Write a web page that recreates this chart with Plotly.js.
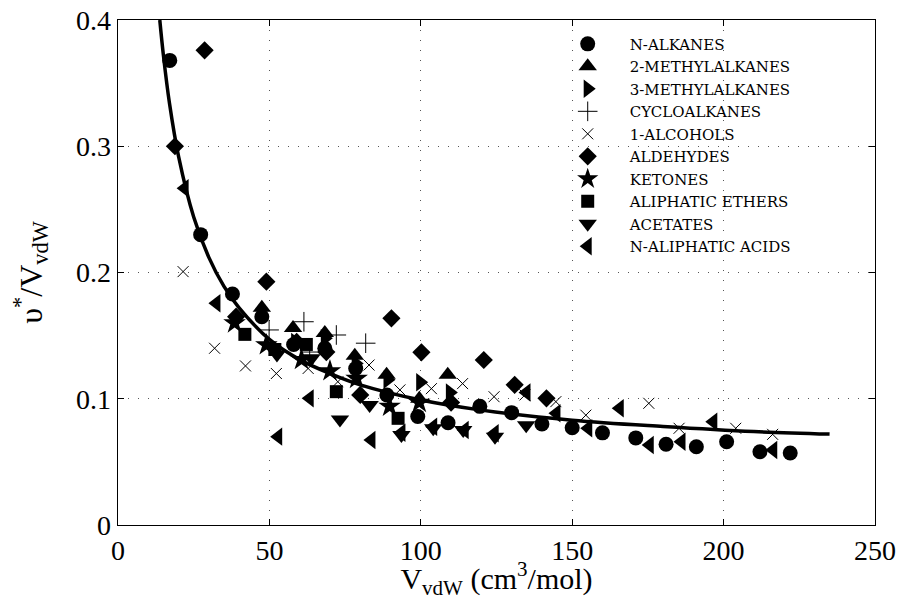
<!DOCTYPE html>
<html>
<head>
<meta charset="utf-8">
<script src="https://cdn.plot.ly/plotly-3.0.1.min.js"></script>
<style>html,body{margin:0;padding:0;background:#fff;}#chart{width:901px;height:600px;}</style>
</head>
<body>
<div id="chart"></div>
<script>
// ---- data ----
const alkanesX = [17.1, 27.3, 37.8, 47.5, 58.0, 68.3, 78.5, 88.8, 99.0, 109.0, 119.5, 130.0, 140.0, 150.0, 160.0, 171.0, 181.0, 191.0, 201.0, 212.0, 222.0];
const alkanesY = [0.368, 0.230, 0.183, 0.165, 0.143, 0.140, 0.124, 0.103, 0.086, 0.081, 0.094, 0.089, 0.080, 0.077, 0.073, 0.069, 0.064, 0.062, 0.066, 0.058, 0.057];

const methyl2X = [47.5, 57.8, 68.3, 78.2, 88.7, 99.5, 108.9];
const methyl2Y = [0.172, 0.156, 0.152, 0.134, 0.119, 0.100, 0.119];

const methyl3X = [58.5, 68.3, 78.5, 89.0, 99.8, 109.6];
const methyl3Y = [0.145, 0.148, 0.128, 0.115, 0.113, 0.105];

const cycloX = [49.9, 61.4, 63.3, 72.1, 81.8];
const cycloY = [0.1545, 0.161, 0.137, 0.1505, 0.144];

const alcoholsX = [21.5, 31.9, 42.1, 52.3, 62.8, 72.6, 82.9, 93.1, 103.5, 113.8, 124.2, 134.4, 144.6, 154.5, 175.3, 185.3, 204.0, 216.2];
const alcoholsY = [0.2007, 0.140, 0.126, 0.120, 0.124, 0.1135, 0.1267, 0.107, 0.108, 0.112, 0.1016, 0.103, 0.0977, 0.087, 0.0964, 0.0766, 0.0766, 0.0718];

const aldehydesX = [18.8, 28.6, 39.0, 49.0, 59.0, 68.8, 80.0, 90.3, 100.2, 110.0, 120.8, 131.0, 141.5];
const aldehydesY = [0.300, 0.376, 0.165, 0.1927, 0.145, 0.137, 0.103, 0.1637, 0.1368, 0.097, 0.1307, 0.111, 0.1003];

const ketonesX = [38.5, 49.0, 60.6, 70.0, 78.8, 89.7, 99.5];
const ketonesY = [0.160, 0.1426, 0.131, 0.122, 0.116, 0.094, 0.097];

const ethersX = [41.9, 51.8, 62.2, 72.1, 92.5];
const ethersY = [0.151, 0.139, 0.143, 0.1056, 0.0845];

const acetatesX = [52.5, 63.9, 73.3, 83.1, 93.6, 104.1, 114.0, 124.5, 134.8];
const acetatesY = [0.135, 0.132, 0.0835, 0.095, 0.0713, 0.0766, 0.0752, 0.070, 0.079];

const acidsX = [22.0, 32.5, 52.9, 63.3, 83.7, 93.6, 104.1, 114.5, 124.4, 134.9, 144.8, 155.3, 165.7, 175.6, 186.1, 196.6, 216.4];
const acidsY = [0.2667, 0.1756, 0.070, 0.1003, 0.0673, 0.073, 0.0779, 0.0752, 0.0726, 0.105, 0.0885, 0.0766, 0.0924, 0.0634, 0.066, 0.0818, 0.0594];

const curveX = [13.8, 15, 17, 20, 25, 30, 35, 40, 50, 60, 70, 80, 100, 120, 150, 180, 210, 235];
const curveY = [0.400, 0.372, 0.334, 0.292, 0.244, 0.212, 0.189, 0.172, 0.147, 0.131, 0.120, 0.111, 0.099, 0.091, 0.083, 0.078, 0.074, 0.072];

const seriesNames = ['N-ALKANES', '2-METHYLALKANES', '3-METHYLALKANES', 'CYCLOALKANES', '1-ALCOHOLS',
  'ALDEHYDES', 'KETONES', 'ALIPHATIC ETHERS', 'ACETATES', 'N-ALIPHATIC ACIDS'];

// ---- traces ----
const FONT = '"Liberation Serif", "Times New Roman", serif';
const LFONT = '"DejaVu Serif", serif';
function sc(name, x, y, symbol, size, open) {
  const m = {symbol: symbol, size: size, color: '#000'};
  if (open) { m.line = {color: '#000', width: 1}; } else { m.line = {width: 0}; }
  return {type: 'scatter', mode: 'markers', name: name, x: x, y: y, marker: m};
}
const traces = [
  {type: 'scatter', mode: 'lines', x: curveX, y: curveY, line: {color: '#000', width: 3.5, shape: 'spline'}, showlegend: false, hoverinfo: 'skip'},
  sc(seriesNames[0], alkanesX, alkanesY, 'circle', 15),
  sc(seriesNames[1], methyl2X, methyl2Y, 'triangle-up', 16),
  sc(seriesNames[2], methyl3X, methyl3Y, 'triangle-right', 16),
  sc(seriesNames[3], cycloX, cycloY, 'cross-thin-open', 14, true),
  sc(seriesNames[4], alcoholsX, alcoholsY, 'x-thin-open', 11, true),
  sc(seriesNames[5], aldehydesX, aldehydesY, 'diamond', 14),
  sc(seriesNames[6], ketonesX, ketonesY, 'star', 17),
  sc(seriesNames[7], ethersX, ethersY, 'square', 13),
  sc(seriesNames[8], acetatesX, acetatesY, 'triangle-down', 16),
  sc(seriesNames[9], acidsX, acidsY, 'triangle-left', 16)
];

const axisCommon = {
  showline: true, linecolor: '#000', linewidth: 1.3, mirror: 'ticks',
  ticks: 'inside', ticklen: 6, tickcolor: '#000', tickwidth: 1,
  showgrid: true, gridcolor: '#555', gridwidth: 1, griddash: '1px,9px',
  zeroline: false, tickfont: {family: FONT, size: 28, color: '#000'}
};

const layout = {
  width: 901, height: 600,
  margin: {l: 118, r: 26, t: 20, b: 75},
  paper_bgcolor: '#fff', plot_bgcolor: '#fff',
  font: {family: FONT, color: '#000'},
  xaxis: Object.assign({}, axisCommon, {
    range: [0, 250], dtick: 50, tick0: 0,
    title: {text: 'V<sub>vdW</sub> (cm<sup>3</sup>/mol)', font: {family: FONT, size: 30, color: '#000'}, standoff: 5}
  }),
  yaxis: Object.assign({}, axisCommon, {
    range: [0, 0.4], dtick: 0.1, tick0: 0,
    title: {text: 'υ<sup>*</sup>/V<sub>vdW</sub>', font: {family: FONT, size: 32, color: '#000'}, standoff: 24}
  }),
  legend: {
    x: 0.565, y: 0.985, xanchor: 'left', yanchor: 'top',
    bgcolor: 'rgba(0,0,0,0)', borderwidth: 0,
    font: {family: LFONT, size: 15, color: '#000'},
    itemwidth: 74, tracegroupgap: 0
  },
  showlegend: true
};

Plotly.newPlot('chart', traces, layout, {displayModeBar: false, staticPlot: true});
</script>
</body>
</html>
